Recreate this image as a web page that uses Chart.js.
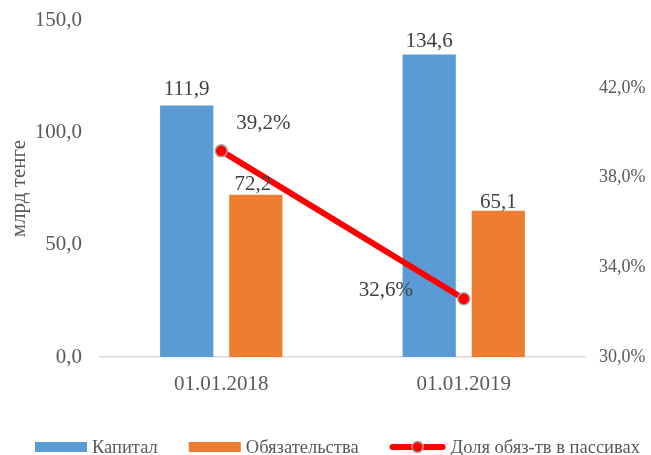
<!DOCTYPE html>
<html>
<head>
<meta charset="utf-8">
<script src="https://cdn.jsdelivr.net/npm/chart.js@4"></script>
<style>
  html, body { margin: 0; padding: 0; background: #fff; }
  #wrap { width: 651px; height: 455px; }
</style>
</head>
<body>
<div id="wrap"><canvas id="chart" width="651" height="455"></canvas></div>
<script>
// Chart data
const categories = ['01.01.2018', '01.01.2019'];
const capital = [111.9, 134.6];
const liabilities = [72.2, 65.1];
const shareInLiab = [39.2, 32.6];
const leftTicks = [0, 50, 100, 150];
const rightTicks = [30, 34, 38, 42];

const FONT = '"Liberation Serif", "Times New Roman", serif';
const BLUE = '#5B9BD5', ORANGE = '#ED7D31', RED = '#FF0000';
const TXT = '#595959';
const fmt = v => v.toFixed(1).replace('.', ',');

// data label offsets [dx, dy] relative to element, per dataset
const labelOffsets = [
  [[0, -16], [0, -13]],
  [[-3, -10], [0, -8]],
  [[42, -27], [-78, -8]]
];

const valueLabels = {
  id: 'valueLabels',
  afterDatasetsDraw(chart) {
    const ctx = chart.ctx;
    ctx.save();
    ctx.font = '21px ' + FONT;
    ctx.fillStyle = '#404040';
    ctx.textAlign = 'center';
    ctx.textBaseline = 'middle';
    chart.data.datasets.forEach((ds, di) => {
      const meta = chart.getDatasetMeta(di);
      meta.data.forEach((el, i) => {
        const [dx, dy] = labelOffsets[di][i];
        const txt = fmt(ds.data[i]) + (di === 2 ? '%' : '');
        ctx.fillText(txt, el.x + dx, el.y + dy);
      });
    });
    ctx.restore();
  }
};

// legend drawn by hand so spacing matches the original
const bottomLegend = {
  id: 'bottomLegend',
  afterDraw(chart) {
    const ctx = chart.ctx;
    const cy = 447;
    let x = 35;
    ctx.save();
    ctx.font = '18.5px ' + FONT;
    ctx.textBaseline = 'middle';
    chart.data.datasets.forEach((ds, i) => {
      if (ds.type === 'line') {
        ctx.strokeStyle = ds.borderColor; ctx.lineWidth = 6; ctx.lineCap = 'round';
        ctx.beginPath(); ctx.moveTo(x + 3, cy); ctx.lineTo(x + 53, cy); ctx.stroke();
        ctx.beginPath(); ctx.arc(x + 28, cy, 5.5, 0, Math.PI * 2);
        ctx.fillStyle = ds.pointBackgroundColor; ctx.fill();
        ctx.lineWidth = 1.5; ctx.strokeStyle = ds.pointBorderColor; ctx.stroke();
        x += 56;
      } else {
        ctx.fillStyle = ds.backgroundColor;
        ctx.fillRect(x, cy - 5, 52, 10);
        x += 52;
      }
      x += 5;
      ctx.fillStyle = TXT;
      ctx.fillText(ds.label, x, cy + 1);
      x += ctx.measureText(ds.label).width + 31;
    });
    ctx.restore();
  }
};

new Chart(document.getElementById('chart'), {
  type: 'bar',
  data: {
    labels: categories,
    datasets: [
      { label: 'Капитал', data: capital, backgroundColor: BLUE, yAxisID: 'y', order: 2,
        barPercentage: 0.77, categoryPercentage: 0.57 },
      { label: 'Обязательства', data: liabilities, backgroundColor: ORANGE, yAxisID: 'y', order: 2,
        barPercentage: 0.77, categoryPercentage: 0.57 },
      { type: 'line', label: 'Доля обяз-тв в пассивах', data: shareInLiab, yAxisID: 'y1', order: 0,
        borderColor: RED, borderWidth: 6, pointRadius: 6, pointBackgroundColor: RED,
        pointBorderColor: '#A6A6A6', pointBorderWidth: 1.5, tension: 0, fill: false }
    ]
  },
  options: {
    responsive: false,
    animation: false,
    layout: { padding: { top: 20, bottom: 47, left: 3 } },
    plugins: {
      tooltip: { enabled: false },
      legend: { display: false }
    },
    scales: {
      x: {
        grid: { display: false, drawTicks: false },
        border: { color: '#D9D9D9', width: 1.5 },
        ticks: { color: TXT, font: { family: FONT, size: 21 }, padding: 15 },
        afterFit(s) { s.height = 51; }
      },
      y: {
        position: 'left',
        min: 0, max: 150,
        afterBuildTicks(s) { s.ticks = leftTicks.map(v => ({ value: v })); },
        grid: { display: false, drawTicks: false },
        border: { display: false },
        ticks: { color: TXT, font: { family: FONT, size: 21 }, padding: 18, callback: v => fmt(v) },
        title: { display: true, text: 'млрд тенге', color: TXT, font: { family: FONT, size: 21 } },
        afterFit(s) { s.width = 97; s.paddingTop = 0; }
      },
      y1: {
        position: 'right',
        min: 30, max: 45.04,
        afterBuildTicks(s) { s.ticks = rightTicks.map(v => ({ value: v })); },
        grid: { display: false, drawTicks: false },
        border: { display: false },
        ticks: { color: TXT, font: { family: FONT, size: 18 }, padding: 14, callback: v => fmt(v) + '%' },
        afterFit(s) { s.width = 66; s.paddingTop = 0; }
      }
    }
  },
  plugins: [valueLabels, bottomLegend]
});
</script>
</body>
</html>
